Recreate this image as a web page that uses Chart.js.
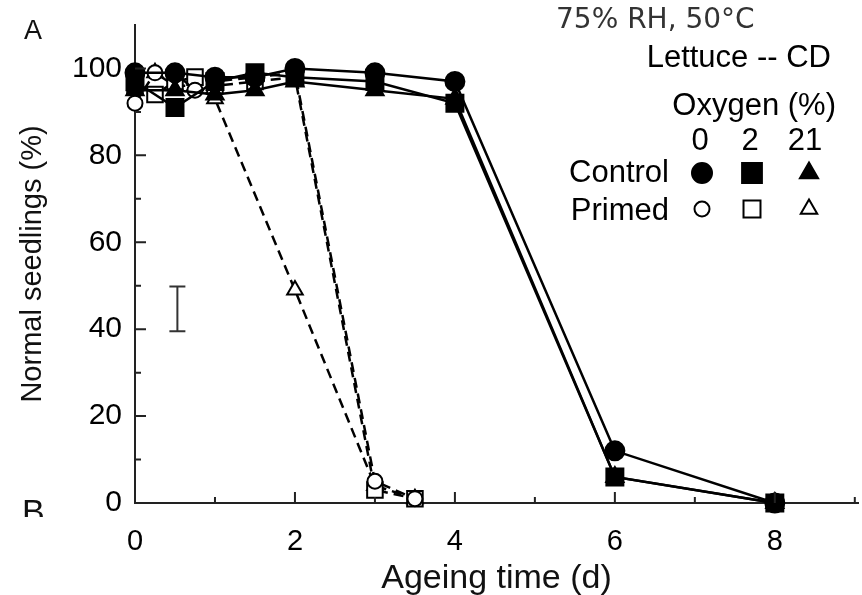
<!DOCTYPE html>
<html>
<head>
<meta charset="utf-8">
<script src="https://cdn.jsdelivr.net/npm/chart.js@4.4.0/dist/chart.umd.min.js"></script>
<style>
  html, body { margin: 0; padding: 0; background: #fff; }
  #wrap { width: 862px; height: 595px; }
</style>
</head>
<body>
<div id="wrap"><canvas id="seedChart" width="862" height="595"></canvas></div>
<script>
// Ageing time (d) for each group
const controlDays = [0, 0.5, 1, 1.5, 2, 3, 4, 6, 8];
const primedDays = [0, 0.25, 0.5, 0.75, 1, 1.5, 2, 3, 3.5];
const primed21Days = [0, 0.25, 0.5, 0.75, 1, 2, 3, 3.5];

// Normal seedlings (%)
const control0 = [99, 99, 98, 98, 100, 99, 97, 12, 0];
const control2 = [97, 91, 97, 99, 98, 97, 92, 6, 0];
const control21 = [95, 95, 94, 95, 97, 95, 93, 6, 0];
const primed0 = [92, 99, 99, 95, 97, 98, 99, 5, 1];
const primed2 = [96, 94, 97, 98, 96, 97, 98, 3, 1];
const primed21 = [96, 99, 96, 96, 93, 49, 4, 1];

// LSD bar
const errX = [0.53];
const errRange = [39.5, 49.8];

// axis ticks
const xLabelTicks = [0, 2, 4, 6, 8];
const xMinorTicks = [1, 3, 5, 7, 9];
const yLabelTicks = [0, 20, 40, 60, 80, 100];
const yMinorTicks = [10, 30, 50, 70, 90];

const oxygenLevels = ['0', '2', '21'];

const FONT = "'Liberation Sans', Arial, sans-serif";

function toPoints(xs, ys) {
    return xs.map((x, i) => ({ x: x, y: ys[i] }));
}

function series(label, xs, ys, style, filled, dashed, radius) {
    return {
        label: label,
        data: toPoints(xs, ys),
        borderColor: '#000',
        borderWidth: 2.5,
        borderDash: dashed ? [10, 6] : [],
        pointStyle: style,
        pointRadius: radius,
        pointBackgroundColor: filled ? '#000' : '#fff',
        pointBorderColor: '#000',
        pointBorderWidth: 2,
        tension: 0,
        fill: false,
        clip: false
    };
}

// tick marks, error bar and the annotation text
const extrasPlugin = {
    id: 'extras',
    afterDraw(chart) {
        const ctx = chart.ctx;
        const xs = chart.scales.x;
        const ys = chart.scales.y;
        const area = chart.chartArea;

        ctx.save();
        ctx.strokeStyle = '#222';
        ctx.lineWidth = 2;
        ctx.beginPath();
        xLabelTicks.forEach(v => {
            const px = xs.getPixelForValue(v);
            ctx.moveTo(px, area.bottom); ctx.lineTo(px, area.bottom - 11);
        });
        xMinorTicks.forEach(v => {
            const px = xs.getPixelForValue(v);
            ctx.moveTo(px, area.bottom); ctx.lineTo(px, area.bottom - 6);
        });
        yLabelTicks.forEach(v => {
            const py = ys.getPixelForValue(v);
            ctx.moveTo(area.left, py); ctx.lineTo(area.left + 11, py);
        });
        yMinorTicks.forEach(v => {
            const py = ys.getPixelForValue(v);
            ctx.moveTo(area.left, py); ctx.lineTo(area.left + 6, py);
        });
        ctx.stroke();

        // error bar
        const ex = xs.getPixelForValue(errX[0]);
        const e1 = ys.getPixelForValue(errRange[0]);
        const e2 = ys.getPixelForValue(errRange[1]);
        ctx.strokeStyle = '#333';
        ctx.beginPath();
        ctx.moveTo(ex, e1); ctx.lineTo(ex, e2);
        ctx.moveTo(ex - 8, e1); ctx.lineTo(ex + 8, e1);
        ctx.moveTo(ex - 8, e2); ctx.lineTo(ex + 8, e2);
        ctx.stroke();

        // panel letters
        ctx.fillStyle = '#111';
        ctx.font = '27px ' + FONT;
        ctx.textAlign = 'left';
        ctx.textBaseline = 'alphabetic';
        ctx.fillText('A', 24, 39);
        ctx.save();
        ctx.beginPath();
        ctx.rect(0, 480, 120, 37);
        ctx.clip();
        ctx.font = '34px ' + FONT;
        ctx.fillText('B', 22, 523);
        ctx.restore();

        // legend block
        ctx.fillStyle = '#333';
        ctx.font = "28px 'DejaVu Sans', sans-serif";
        ctx.fillText('75% RH, 50\u00B0C', 556, 28);

        ctx.fillStyle = '#000';
        ctx.font = '31px ' + FONT;
        ctx.textAlign = 'right';
        ctx.fillText('Lettuce -- CD', 831, 67);
        ctx.fillText('Oxygen (%)', 836, 115);
        ctx.fillText('Control', 669, 182);
        ctx.fillText('Primed', 669, 220);

        const colX = [702, 752, 809];
        ctx.textAlign = 'center';
        oxygenLevels.forEach((t, i) => ctx.fillText(t, colX[i] - (i === 2 ? 4 : 2), 150));

        const styles = ['circle', 'rect', 'triangle'];
        const filledR = [10, 14, 10.5];
        const openR = [7.5, 12, 9.5];
        ctx.lineWidth = 2;
        ctx.strokeStyle = '#000';
        styles.forEach((s, i) => {
            ctx.fillStyle = '#000';
            Chart.helpers.drawPoint(ctx, { pointStyle: s, radius: filledR[i], borderWidth: 2, rotation: 0 }, colX[i], 173);
            ctx.fillStyle = '#fff';
            Chart.helpers.drawPoint(ctx, { pointStyle: s, radius: openR[i], borderWidth: 2, rotation: 0 }, colX[i], 209);
        });
        ctx.restore();
    }
};

const chart = new Chart(document.getElementById('seedChart'), {
    type: 'line',
    data: {
        datasets: [
            series('Control 0', controlDays, control0, 'circle', true, false, 9.5),
            series('Control 2', controlDays, control2, 'rect', true, false, 12),
            series('Control 21', controlDays, control21, 'triangle', true, false, 10),
            series('Primed 0', primedDays, primed0, 'circle', false, true, 7.5),
            series('Primed 2', primedDays, primed2, 'rect', false, true, 11),
            series('Primed 21', primed21Days, primed21, 'triangle', false, true, 9)
        ]
    },
    options: {
        responsive: false,
        animation: false,
        devicePixelRatio: 1,
        layout: { autoPadding: false, padding: { left: 0, top: 25, right: 4, bottom: 0 } },
        plugins: {
            legend: { display: false },
            tooltip: { enabled: false }
        },
        scales: {
            x: {
                type: 'linear',
                min: 0,
                max: 9.04,
                afterBuildTicks: s => { s.ticks = xLabelTicks.map(v => ({ value: v })); },
                afterFit: s => { s.height = 92; s.paddingLeft = 0; s.paddingRight = 0; },
                grid: { display: false, drawTicks: false },
                border: { display: true, color: '#222', width: 2 },
                ticks: { color: '#000', padding: 22, maxRotation: 0, font: { family: FONT, size: 29 } },
                title: {
                    display: true,
                    text: 'Ageing time (d)',
                    color: '#111',
                    font: { family: FONT, size: 34 },
                    padding: { top: 4, bottom: -4 }
                }
            },
            y: {
                min: 0,
                max: 110,
                afterBuildTicks: s => { s.ticks = yLabelTicks.map(v => ({ value: v })); },
                afterFit: s => { s.width = 135; s.paddingTop = 0; s.paddingBottom = 0; },
                grid: { display: false, drawTicks: false },
                border: { display: true, color: '#222', width: 2 },
                ticks: { color: '#000', padding: 13, font: { family: FONT, size: 30 } },
                title: {
                    display: true,
                    text: 'Normal seedlings (%)',
                    color: '#111',
                    font: { family: FONT, size: 29 },
                    padding: { top: 16, bottom: 0 }
                }
            }
        }
    },
    plugins: [extrasPlugin]
});
</script>
</body>
</html>
